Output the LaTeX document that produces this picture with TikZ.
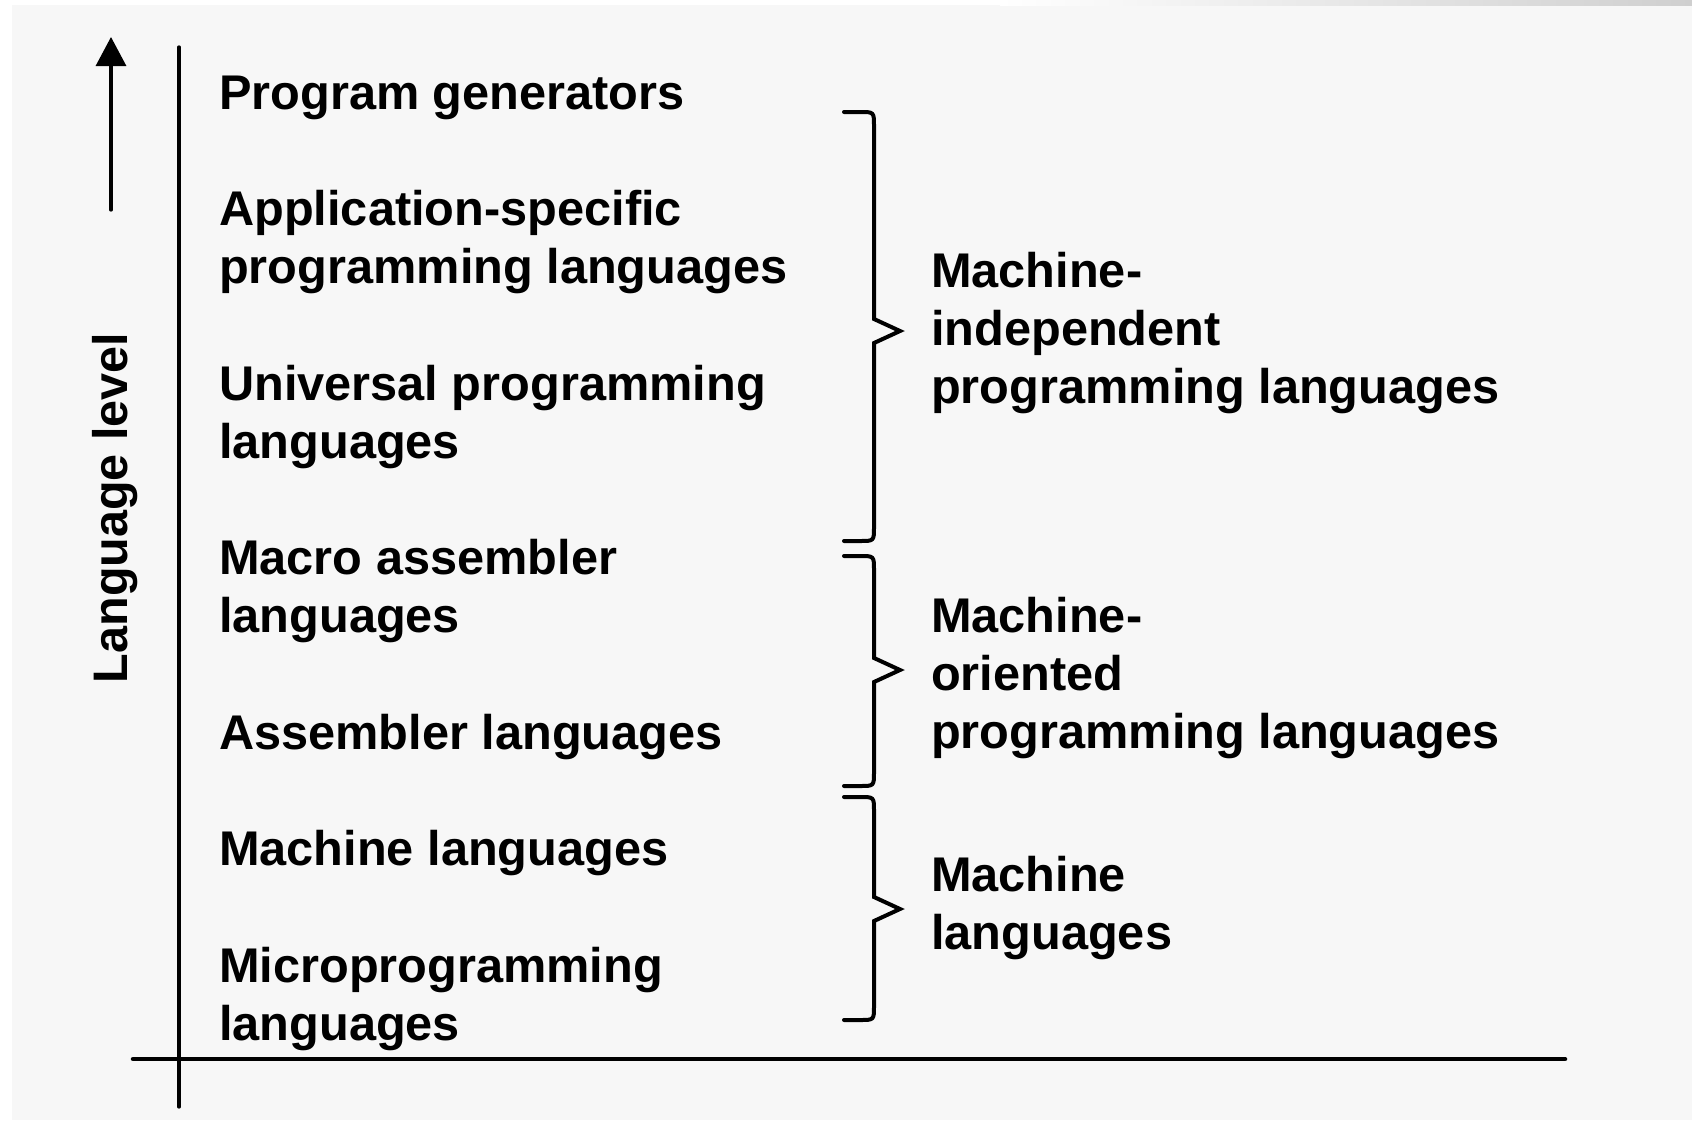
\documentclass[tikz,border=0pt]{standalone}
\usepackage{fontspec}
\setmainfont{Liberation Sans}
\usetikzlibrary{arrows.meta}

\definecolor{panel}{HTML}{F7F7F7}
\definecolor{rim}{HTML}{CFCFCF}

% curly brace opening to the right: top end, tip, bottom end (y values)
\newcommand\curlybrace[3]{%
  \draw[brace] (844,#1) -- (860,#1) .. controls (874,#1) .. (874,#1+14)
    -- (874,#2-12) -- (900,#2) -- (874,#2+12)
    -- (874,#3-14) .. controls (874,#3) .. (860,#3) -- (844,#3);}

\begin{document}
\begin{tikzpicture}[x=1pt,y=-1pt,
  txt/.style={anchor=base west, inner sep=0pt,
    font=\bfseries\fontsize{48.7}{58.2}\selectfont},
  axis/.style={line width=3.3pt, line cap=round},
  brace/.style={line width=4pt, line cap=round, line join=miter}]

% page and panel background
\useasboundingbox (0,0) rectangle (1692,1120);
\fill[white] (0,0) rectangle (1692,1120);
\fill[panel] (12,5) rectangle (1692,1120);
\shade[left color=white, right color=rim] (1000,0) rectangle (1692,5);

% axes
\coordinate (ytop) at (179,47);
\coordinate (ybot) at (179,1107);
\coordinate (xl) at (133,1059);
\coordinate (xr) at (1565,1059);
\draw[axis] (ybot) -- (ytop);
\draw[axis, line width=4.5pt] (xl) -- (xr);

% level arrow and its caption
\coordinate (arrbot) at (111,210);
\coordinate (arrtop) at (111,37);
\draw[axis, -{Triangle[width=30pt,length=29pt]}] (arrbot) -- (arrtop);
\node[font=\bfseries\fontsize{48.5}{58.2}\selectfont, rotate=90,
      anchor=base, inner sep=0pt] (lvl) at (127,508) {Language level};

% language levels
\node[txt] (pg)   at (219,109)   {Program generators};
\node[txt] (asp)  at (219,225.4) {\begin{tabular}[t]{@{}l@{}}Application-specific\\programming languages\end{tabular}};
\node[txt] (univ) at (219,400)   {\begin{tabular}[t]{@{}l@{}}Universal programming\\languages\end{tabular}};
\node[txt] (mac)  at (219,574.6) {\begin{tabular}[t]{@{}l@{}}Macro assembler\\languages\end{tabular}};
\node[txt] (asm)  at (219,749.2) {Assembler languages};
\node[txt] (mach) at (219,865.6) {Machine languages};
\node[txt] (mic)  at (219,982)   {\begin{tabular}[t]{@{}l@{}}Microprogramming\\languages\end{tabular}};

% groups
\curlybrace{112}{331}{541}
\curlybrace{556}{670}{786}
\curlybrace{797}{909}{1020}

\node[txt] (indep)  at (931,287) {\begin{tabular}[t]{@{}l@{}}Machine-\\independent\\programming languages\end{tabular}};
\node[txt] (orient) at (931,632) {\begin{tabular}[t]{@{}l@{}}Machine-\\oriented\\programming languages\end{tabular}};
\node[txt] (mlang)  at (931,891) {\begin{tabular}[t]{@{}l@{}}Machine\\languages\end{tabular}};
\end{tikzpicture}
\end{document}
